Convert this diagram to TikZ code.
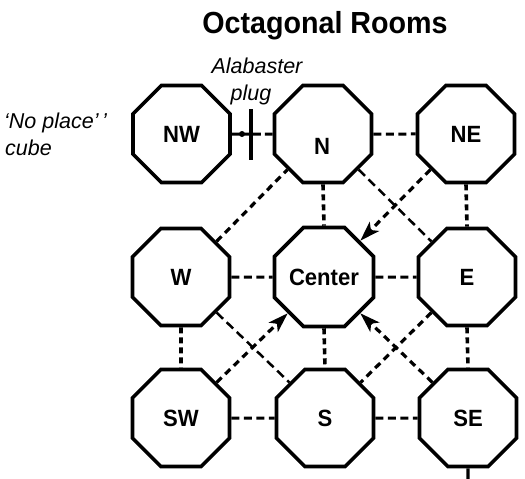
\documentclass[tikz,border=0pt]{standalone}
\usepackage{fontspec}
\setmainfont{Liberation Sans}
\newfontfamily\condfont[FakeStretch=0.94]{Liberation Sans}
\usetikzlibrary{shapes.geometric,arrows.meta}
\newcommand\roomfnt{\condfont\bfseries\fontsize{23.5}{28}\selectfont}
\newcommand\titlefnt{\condfont\bfseries\fontsize{30.5}{36}\selectfont}
\newcommand\notefnt{\itshape\fontsize{21.5}{26}\selectfont}
\begin{document}
\begin{tikzpicture}[x=1pt,y=-1pt,
  room/.style={regular polygon,regular polygon sides=8,minimum size=105pt,
    inner sep=0pt,draw,line width=3.6pt,font=\roomfnt},
  roomtext/.style={inner sep=0pt,font=\roomfnt},
  note/.style={inner sep=0pt,font=\notefnt},
  hdash/.style={line width=3pt,dash pattern=on 8pt off 4.5pt},
  vdash/.style={line width=3.6pt,dash pattern=on 6pt off 4pt},
  ddash/.style={line width=3.2pt,dash pattern=on 7pt off 5pt},
  dthin/.style={line width=2.5pt,dash pattern=on 9pt off 5pt},
  arr/.style={-{Stealth[length=20pt,width=13pt,inset=5pt]}},
  solidline/.style={line width=3pt}]
\useasboundingbox (0,0) rectangle (525,479);

% rooms
\node[room] (NW) at (181.5,134) {NW};
\node[room] (N)  at (323,134) {};
\node[roomtext] (Ntext) at (322,146) {N};
\node[room] (NE) at (466,134) {NE};
\node[room] (W)  at (181,277) {W};
\node[room] (C)  at (324,277) {Center};
\node[room] (E)  at (467,277) {E};
\node[room] (SW) at (181,418) {SW};
\node[room] (S)  at (325,418) {S};
\node[room] (SE) at (468,418) {SE};

% texts
\node[anchor=base,inner sep=0pt,font=\titlefnt] (title) at (325,34) {Octagonal Rooms};
\node[note,anchor=base] (alab) at (257,73) {Alabaster};
\node[note,anchor=base] (plug) at (251,100) {plug};
\node[note,anchor=base west] (noplace) at (4,128) {`No place'\,'};
\node[note,anchor=base west] (cube) at (5,155) {cube};

% alabaster plug between NW and N
\draw[solidline,dash pattern=on 29pt off 4pt on 20pt] (NW) -- (N);
\node[circle,fill,inner sep=0pt,minimum size=6pt] (plugdot) at (242,134) {};
\coordinate (plugA) at (251,109);
\coordinate (plugB) at (251,160);
\draw[line width=3.6pt] (plugA) -- (plugB);

% horizontal connectors
\draw[hdash] (N) -- (NE);
\draw[hdash] (W) -- (C);
\draw[hdash] (C) -- (E);
\draw[hdash] (SW) -- (S);
\draw[hdash] (S) -- (SE);

% vertical connectors
\draw[vdash] (N.south) -- (C.north);
\draw[vdash] (NE.south) -- (E.north);
\draw[vdash] (W.south) -- (SW.north);
\draw[vdash] (C.south) -- (S.north);
\draw[vdash] (E.south) -- (SE.north);

% diagonal connectors
\draw[ddash] (W.45) -- (N.225);
\draw[dthin] (N.315) -- (E.135);
\draw[ddash,arr] (NE.225) -- (C.45);
\draw[dthin] (W.315) -- (S.135);
\draw[ddash,arr] (SW.45) -- (C.225);
\draw[ddash] (E.225) -- (S.45);
\draw[ddash,arr] (SE.135) -- (C.315);

% exit below SE
\coordinate (exitS) at (468,479);
\draw[line width=3.4pt] (SE.south) -- (exitS);
\end{tikzpicture}
\end{document}
